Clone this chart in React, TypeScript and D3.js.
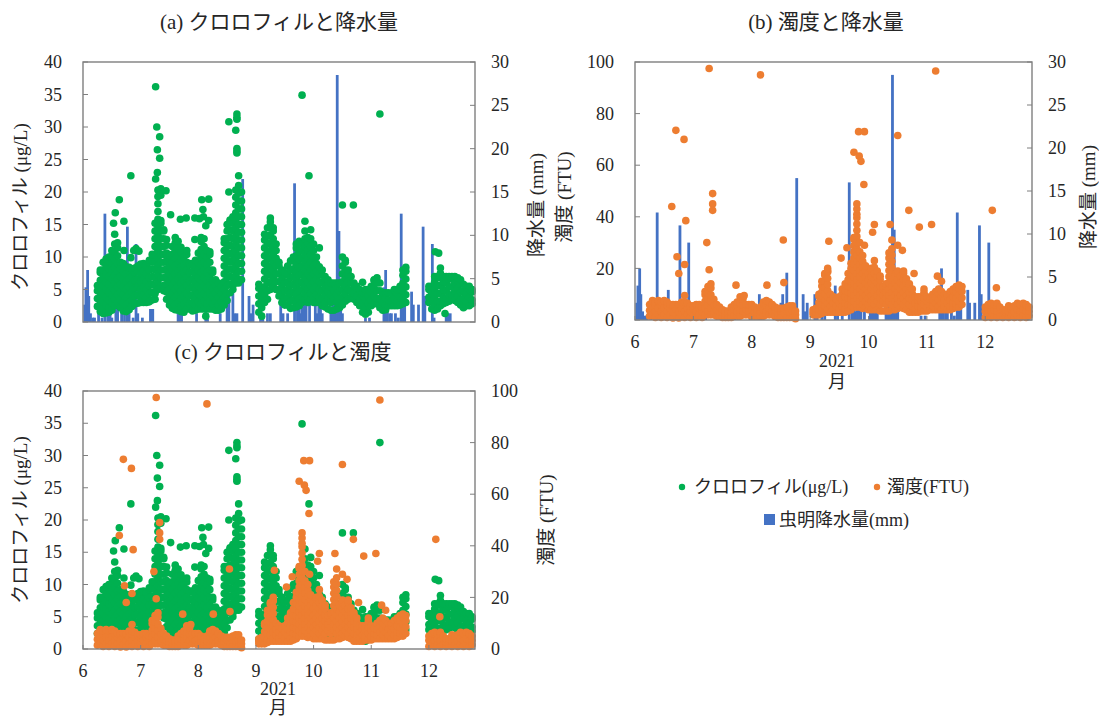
import React from 'react';
import * as d3 from 'd3';

const green = '#00B050';
const orange = '#ED7D31';
const blue = '#4472C4';
const frame = '#7F7F7F';
const ink = '#262626';
const serif = '"Liberation Serif", serif';
const gothic = '"Noto Sans CJK JP", sans-serif';

const monthTicks = [6, 7, 8, 9, 10, 11, 12];
const chlTicks = [0, 5, 10, 15, 20, 25, 30, 35, 40];
const rainTicks = [0, 5, 10, 15, 20, 25, 30];
const turbTicks = [0, 20, 40, 60, 80, 100];

// sampling columns
const sampleMonths = [
  6.25, 6.3, 6.35, 6.4, 6.45, 6.5, 6.55, 6.6, 6.65, 6.7, 6.75, 6.8, 6.85, 6.9, 6.95, 7, 7.05, 7.1, 7.15, 7.2,
  7.25, 7.3, 7.35, 7.4, 7.45, 7.5, 7.55, 7.6, 7.65, 7.7, 7.75, 7.8, 7.85, 7.9, 7.95, 8, 8.05, 8.1, 8.15, 8.2,
  8.25, 8.3, 8.35, 8.4, 8.45, 8.5, 8.55, 8.6, 8.65, 8.7, 8.75,
  9.05, 9.1, 9.15, 9.2, 9.25, 9.3, 9.35, 9.4, 9.45, 9.5, 9.55, 9.6, 9.65, 9.7, 9.75, 9.8, 9.85, 9.9, 9.95, 10,
  10.05, 10.1, 10.15, 10.2, 10.25, 10.3, 10.35, 10.4, 10.45, 10.5, 10.55, 10.6, 10.65, 10.7, 10.75, 10.8, 10.85,
  10.9, 10.95, 11, 11.05, 11.1, 11.15, 11.2, 11.25, 11.3, 11.35, 11.4, 11.45, 11.5, 11.55, 11.6,
  12, 12.05, 12.1, 12.15, 12.2, 12.25, 12.3, 12.35, 12.4, 12.45, 12.5, 12.55, 12.6, 12.65, 12.7, 12.75,
];

const chlColumns = [
  [2.4, 3.6, 4.8, 5.6], [1.6, 2.8, 4, 5.2, 6.4, 7.6, 8], [1.3, 2, 3.2, 4.4, 5.6, 6.8, 8, 9.2], [1.4, 2.6, 3.8, 5, 6.2, 7.4, 8.6, 9.7],
  [1.5, 2.2, 3.4, 4.6, 5.8, 7, 8.2, 9.4, 10], [1.8, 3, 4.2, 5.4, 6.6, 7.8, 9, 10.2, 11], [2.5, 3.6, 4.8, 6, 7.2, 8.4, 9.6, 10.8, 12, 13.5],
  [3, 4.2, 5.4, 6.6, 7.8, 9, 10.2, 11.4, 12.2], [2.2, 3.4, 4.6, 5.8, 7, 8.2, 9.2], [1.7, 3, 4.2, 5.4, 6.6, 7.8, 9], [1.6, 2.6, 3.8, 5, 6.2, 7.4, 8.5],
  [1.9, 3, 4.2, 5.4, 6.6, 7.8, 8.4], [2.4, 3.4, 4.6, 5.8, 7, 8.2], [2.8, 4, 5.2, 6.4, 7.6, 8.3], [2.9, 4.2, 5.4, 6.6, 7.8, 8.6], [3, 3.8, 5, 6.2, 7.4, 8.6, 8.9],
  [3, 4.2, 5.4, 6.6, 7.8, 9], [3, 3.8, 5, 6.2, 7.4, 8.6, 8.8], [3.1, 4.4, 5.6, 6.8, 8, 9.2, 9.5], [3.4, 4.6, 5.8, 7, 8.2, 9.4, 10.4],
  [3.5, 4.4, 5.6, 6.8, 8, 9.2, 10.4, 11.6, 12.8, 14, 15.2], [5, 6.2, 7.4, 8.6, 9.8, 11, 12.2, 13.4, 14.6, 15.8, 17, 18.2, 19.3, 20.3],
  [5.5, 6.8, 8, 9.2, 10.4, 11.6, 12.8, 14, 15.2, 15.6, 19.5, 20.5], [4.8, 5.6, 6.8, 8, 9.2, 10.4, 11.6, 12.8, 14, 14.2], [3.5, 4.6, 5.8, 7, 8.2, 9.4, 10.6, 11.8, 12.7],
  [2.6, 3.8, 5, 6.2, 7.4, 8.6, 9.8, 10.2], [2.1, 3.2, 4.4, 5.6, 6.8, 8, 9.2, 10.4, 11.6], [1.9, 2.6, 3.8, 5, 6.2, 7.4, 8.6, 9.8, 11, 12.2, 13],
  [1.8, 3, 4.2, 5.4, 6.6, 7.8, 9, 10.2, 11.4, 12.4], [1.6, 2.4, 3.6, 4.8, 6, 7.2, 8.4, 9.6, 10.8, 11.5], [1.5, 2.8, 4, 5.2, 6.4, 7.6, 8.8, 10],
  [2, 3.2, 4.4, 5.6, 6.8, 8, 9.2, 10.4, 11], [2, 2.8, 4, 5.2, 6.4, 7.6, 8.8, 9], [1.7, 3, 4.2, 5.4, 6.6, 7.8, 9], [1.8, 2.6, 3.8, 5, 6.2, 7.4, 8.6, 9.5],
  [2, 3.2, 4.4, 5.6, 6.8, 8, 9.2, 10.6], [2, 2.8, 4, 5.2, 6.4, 7.6, 8.8, 10, 11.2, 12.4, 13], [2, 3.2, 4.4, 5.6, 6.8, 8, 9.2, 10.4, 11.6, 12.8],
  [2, 2.8, 4, 5.2, 6.4, 7.6, 8.8, 10, 11], [2, 3.2, 4.4, 5.6, 6.8, 8, 9.2, 10.4, 10.8], [2, 2.8, 4, 5.2, 6.4, 7.6, 8], [1.8, 3.2, 4.4, 5.6, 6.5],
  [1.8, 2.6, 3.8, 5, 6], [2, 3.2, 4.4, 5.5], [2.6, 3.8, 5, 6.2, 7.4, 8.6, 9.8, 11, 12.2, 12.8], [3.3, 4.4, 5.6, 6.8, 8, 9.2, 10.4, 11.6, 12.8, 14, 15],
  [4.5, 5.8, 7, 8.2, 9.4, 10.6, 11.8, 13, 14.2, 15.4, 15.7], [5, 5.6, 6.8, 8, 9.2, 10.4, 11.6, 12.8, 14, 15.2, 16.2], [6, 7.2, 8.4, 9.6, 10.8, 12, 13.2, 14.4, 15.6, 16.8, 18, 19.2, 20.3],
  [6, 6.6, 7.8, 9, 10.2, 11.4, 12.6, 13.8, 15, 16.2, 17.4, 18.6, 19.8, 21, 22.5], [6.5, 7.8, 9, 10.2, 11.4, 12.6, 13.8, 15, 16.2, 17.4, 18.6, 20],
  [1.5, 2.8, 4, 5.2, 5.8], [0.9, 2.2, 3.4, 4.6, 5], [3, 4.2, 5.4, 6.6, 7.8, 9, 10.2, 11.4, 12.6, 13.5], [3.5, 4.8, 6, 7.2, 8.4, 9.6, 10.8, 12, 13.2, 14.5],
  [5, 6.2, 7.4, 8.6, 9.8, 11, 12.2, 13.4, 14.6, 15.4, 16], [5.5, 6.8, 8, 9.2, 10.4, 11.6, 12.8, 14, 14.5], [5, 6.2, 7.4, 8.6, 9.8, 11, 12], [4, 5, 6.2, 7.4, 8.6, 9.2],
  [3, 4.2, 5.4, 6.6, 7.8, 8], [2.6, 3.6, 4.8, 6, 7.2, 7.6], [2.6, 3.8, 5, 6.2, 7.4, 8.6], [2.1, 3.2, 4.4, 5.6, 6.8, 8, 9.4], [2.2, 3.4, 4.6, 5.8, 7, 8.2, 9.4, 10],
  [2.3, 3, 4.2, 5.4, 6.6, 7.8, 9, 10.2, 11.4, 12], [2.5, 3.6, 4.8, 6, 7.2, 8.4, 9.6, 10.8, 12, 12.4], [3, 3.8, 5, 6.2, 7.4, 8.6, 9.8, 11, 12],
  [3.5, 4.4, 5.6, 6.8, 8, 9.2, 10.4, 11.6, 12.8, 14, 15.5], [3, 3.8, 5, 6.2, 7.4, 8.6, 9.8, 11, 12.2, 13], [3.5, 4.4, 5.6, 6.8, 8, 9.2, 10.4, 11.6, 12.8, 14.2],
  [3, 3.8, 5, 6.2, 7.4, 8.6, 9.8, 11, 12], [3, 4.2, 5.4, 6.6, 7.8, 9, 10], [3, 3.8, 5, 6.2, 7.4, 8.5], [2.5, 3.6, 4.8, 6, 7.2, 8], [2.3, 3, 4.2, 5.4, 6.6, 7],
  [2, 3.6, 4.8, 6, 6.5], [1.8, 3, 4.2, 5.4, 6], [1.8, 3.6, 4.8, 6], [2, 3, 4.2, 5.4, 6], [2.2, 3.6, 4.8, 6], [2.6, 3.8, 5, 6.2, 7.4, 8.6, 10],
  [3.2, 4.4, 5.6, 6.8, 8, 9.2, 9.5], [3.5, 5, 6.2, 7.4, 8], [3.8, 4.8, 6, 7], [3.5, 4.4, 5.6, 6], [3, 4, 5.2, 5.5], [2.5, 3.4, 4.6, 5], [1.5, 2.8, 4, 4.5],
  [1.2, 2.2, 3.4, 4.6, 5], [1.5, 2.8, 4, 5], [2.5, 3.4, 4.6, 5.5], [2.8, 4, 5.2, 6.4, 6.5], [2.8, 3.6, 4.8, 6, 6.8], [2.2, 3.6, 4.8, 6], [1.8, 3, 4.2, 4.5], [1.9, 2.6, 3.8, 4.5],
  [2.5, 3.4, 4.5], [2.5, 3.2, 4.4], [2.5, 3.6, 4.8, 5], [2.5, 3.2, 4.4, 5], [2.6, 3.8, 5, 5.5], [2.8, 3.6, 4.8, 6, 7.2, 8], [3, 4.2, 5.4, 6.6, 7.8, 8.4], [3, 3.8, 5, 5.5],
  [2, 3.2, 4.4, 5.5], [1.8, 2.6, 3.8, 5, 6.2, 7], [2, 3.2, 4.4, 5.6, 6.8, 7], [2.5, 3.2, 4.4, 5.6, 6.8, 7.5, 8.3], [2.8, 3.8, 5, 6.2, 7], [3, 3.6, 4.8, 6, 7], [3.2, 4.2, 5.4, 6.6, 7],
  [3.5, 4.2, 5.4, 6.6, 7], [3.3, 4.8, 6, 7], [3, 4, 5.2, 6.4, 6.8], [2.6, 3.4, 4.6, 5.8, 6.5], [2.2, 3.6, 4.8, 5.8], [2.5, 3.2, 4.4, 5.5], [2.5, 3.8, 5, 5.5], [2.8, 3.4, 4.6, 5],
  [2.8, 4, 5],
];

const turbColumns = [
  [1.5, 3.8, 6], [2, 4.6, 7.2, 7.5], [1, 3.4, 5.8, 7], [2, 4.6, 7.2, 7.5], [1, 3.4, 5.8, 7], [2, 4.6, 7.2, 7.5], [1, 3.4, 5.8, 7], [2, 4.6, 6], [0.8, 3.2, 5.6, 6], [1.8, 4.4, 6],
  [0.8, 3.2, 5.6, 6], [2, 4.6, 7], [1, 3.4, 5.8, 7], [2, 4.6, 6.5], [1, 3.4, 5.5], [2, 4.4, 5.5], [1, 3.4, 5.8, 6], [2, 4.6, 6], [1, 3.2, 5], [2, 4.6, 7.2, 9.8, 11],
  [2, 3.4, 5.8, 8.2, 10.6, 13], [2, 4.6, 7.2, 9.8, 12.4, 14], [2, 3.4, 5.8, 8], [1.5, 4, 6], [1.5, 3.2, 5], [1, 2.8, 4], [1, 2.3, 3.5], [1, 2.6, 3.5], [1, 3, 5], [1.6, 4, 6],
  [1.5, 3.2, 5.6, 7], [1.5, 4, 6.5, 9], [2, 3.4, 5.8, 8.2, 9], [2, 4.4, 6], [2, 3.4, 5.8, 6], [1.5, 4, 6], [1.5, 3, 5], [1.5, 2.8, 4], [1.5, 3.2, 5], [1.5, 4, 6.4, 7],
  [2, 3.4, 5.8, 7.5], [2, 4.6, 7], [2, 3.4, 5.8, 6], [1.5, 4, 5], [1, 2.8, 4.5], [1, 3.4, 4.5], [1, 2.8, 4.5], [1, 3.4, 5], [1, 3.2, 5.5], [1, 3.4, 5.5], [0.5, 2, 3.5],
  [2, 3, 4], [2, 3.2, 4.5], [2, 4.4, 6.8, 9.2, 10], [2.5, 3.6, 6, 8.4, 10.8, 13.2, 15], [3, 5.4, 7.8, 10.2, 12.6, 15, 17.4, 18], [3, 4.2, 6.6, 9, 11.4, 13.8, 16.2, 18.6, 19], [3, 5.4, 7.8, 10], [3, 4.2, 6.6, 9], [3, 5.4, 7.8, 8], [3, 4.2, 6.6, 9],
  [3, 5.4, 7.8, 10.2, 12], [3, 4.2, 6.6, 9, 11.4, 14], [3.5, 6, 8.4, 10.8, 13.2, 15.6, 18], [4, 5.6, 8, 10.4, 12.8, 15.2, 17.6, 20, 22],
  [5, 7.2, 9.6, 12, 14.4, 16.8, 19.2, 21.6, 24, 26.4, 28.8, 31.2, 32], [5, 6, 8.4, 10.8, 13.2, 15.6, 18, 20.4, 22.8, 25.2, 27.6, 30, 32.4, 34.8, 37.2, 39.6, 41, 43, 45],
  [5, 7.2, 9.6, 12, 14.4, 16.8, 19.2, 21.6, 24, 26.4, 30], [4.5, 6, 8.4, 10.8, 13.2, 15.6, 18, 20.4, 22.8, 25], [5, 7.2, 9.6, 12, 14.4, 16.8, 19.2, 21], [4, 6, 8.4, 10.8, 13.2, 15.6, 18],
  [4, 7.2, 9.6, 12, 14.4, 16.8, 19.2, 20], [4, 6, 8.4, 10.8, 13.2, 15.6, 18, 20.4, 23], [4, 7.2, 9.6, 12, 14.4, 16.8, 19], [3.5, 6, 8.4, 10.8, 13.2, 15.6, 17], [3.5, 7.2, 9.6, 12, 13],
  [3.5, 6, 8.4, 10.8, 13.2, 14], [3.5, 7.2, 9.6, 12, 14.4, 16.8, 19.2, 21.6, 24, 26], [4, 6, 8.4, 10.8, 13.2, 15.6, 18, 20.4, 22.8, 25.2, 27.6, 31], [4, 7.2, 9.6, 12, 14.4, 17],
  [4.5, 6, 8.4, 10.8, 13.2, 15.6, 18, 19], [5, 7.2, 9.6, 12, 14.4, 17], [4.5, 6, 8.4, 10.8, 13.2, 15.6, 18, 19], [4, 7.2, 9.6, 12, 14.4, 16], [3, 6, 8.4, 10.8, 13.2, 14],
  [3, 5.4, 7.8, 10.2, 12], [3, 4.2, 6.6, 9], [3, 5.4, 7.8, 9], [3.5, 5, 7.4, 9], [3.5, 6, 8.4, 10.8, 12], [3.5, 5, 7.4, 9], [4, 6, 8], [4, 5.4, 7.8, 10], [4, 6.6, 9, 11], [4, 5.4, 7.8, 10.2, 12], [4, 6.6, 9, 11],
  [4, 5.4, 7.8, 10], [4, 6.6, 9, 10], [4, 5.4, 7.8, 10.2, 11], [4.5, 6.6, 9, 11.4, 12], [5, 6.2, 8.6, 11, 13], [5, 7.4, 9.8, 12.2, 13.5], [6, 8.6, 11, 13],
  [1, 3.4, 5], [1.6, 4, 6], [1, 3.4, 5.8, 6.5], [1.6, 4, 6], [1, 3.4, 5.8, 6.5], [1.6, 4, 5], [1, 2.6, 4], [1.6, 3.2, 4], [1, 3.2, 5.5], [1.6, 4, 5], [1, 3.2, 5.5], [1.6, 4, 6.5], [1, 3.4, 5.8, 6], [1.6, 4, 6.5], [1, 3.4, 5.8, 6], [1.6, 3.4, 5],
];

const chlOutlierMonths = [6.53, 6.56, 6.63, 6.71, 6.71, 6.83, 6.83, 6.88, 6.92, 6.97, 7.26, 7.28, 7.33, 7.29, 7.33, 7.29, 7.26, 7.44, 7.52, 7.69, 7.79, 7.94, 8.02, 7.94, 8.06, 8.18, 8.08, 8.09, 8.13, 8.18, 8.13, 8.53, 8.53, 8.67, 8.67, 8.67, 8.65, 8.67, 8.67, 8.67, 9.8, 9.92, 10.1, 10.5, 10.69, 10.85, 11.15, 12.11, 12.17, 12.28];
const chlOutlierValues = [15.2, 16.8, 18.8, 15.5, 11, 9.9, 22.5, 11, 11.3, 10.9, 36.2, 30, 28.5, 26.5, 25.2, 23, 22, 20.2, 16.5, 15.8, 16, 16, 15.9, 12.7, 18.8, 18.9, 17.3, 16.2, 0.9, 15.6, 14.8, 20, 30.8, 31.2, 32, 31.5, 29.5, 26.7, 26, 26.3, 34.9, 22.5, 11.4, 18, 18, 6.1, 32, 10.8, 10.6, 1.3];

const turbOutlierMonths = [7.27, 8.15, 6.7, 6.84, 6.63, 6.87, 6.72, 6.85, 6.75, 6.85, 7.23, 7.27, 7.33, 7.33, 7.33, 7.73, 8.26, 8.54, 8.55, 7.87, 9.83, 9.93, 9.75, 9.84, 9.87, 9.92, 10.1, 10.07, 10.37, 10.5, 10.69, 10.87, 11.08, 11.15, 10.5, 10.58, 9.32, 9.63, 9.53, 9.93, 11.18, 11.25, 10.78, 12.12, 12.19, 9.3];
const turbOutlierValues = [97.5, 95, 73.5, 70, 44, 38.5, 24.5, 21.5, 18, 9.5, 30, 19.5, 49, 45, 42.5, 13.5, 13.5, 31, 14.5, 9.5, 73, 73, 65, 63.5, 61.5, 52.5, 37, 34, 37, 71.5, 42.5, 36, 37, 96.5, 29, 27, 30.5, 28, 24, 29, 17, 15, 18, 42.5, 12.5, 20];

const rainMonths = [6.03, 6.05, 6.08, 6.1, 6.13, 6.17, 6.2, 6.27, 6.33, 6.38, 6.43, 6.47, 6.5, 6.57, 6.6, 6.67, 6.72, 6.77, 6.8, 6.87, 6.92, 6.95, 7.03, 7.17, 7.19, 7.21, 7.65, 7.68, 7.71, 7.97, 8.13, 8.16, 8.38, 8.5, 8.53, 8.6, 8.63, 8.67, 8.77, 8.88, 8.91, 8.95, 9.08, 9.12, 9.2, 9.25, 9.43, 9.47, 9.55, 9.67, 9.72, 9.75, 9.78, 9.8, 9.83, 9.87, 9.93, 10.03, 10.06, 10.09, 10.12, 10.15, 10.3, 10.33, 10.36, 10.39, 10.41, 10.44, 10.47, 10.5, 10.9, 10.97, 11.22, 11.25, 11.28, 11.32, 11.35, 11.42, 11.47, 11.52, 11.55, 11.58, 11.7, 11.73, 11.82, 11.9, 11.93, 12.06, 12.09, 12.3, 12.33, 12.37];
const rainValues = [2, 4, 6, 3, 1, 0.5, 0.5, 1, 0.5, 12.5, 1, 1, 0.5, 3.5, 1.5, 1, 2, 11, 2, 0.5, 9, 1, 0.5, 1.5, 1.5, 1.5, 1, 1.5, 1, 1, 3, 1, 1, 2, 3, 5.5, 1, 1, 16.5, 3, 1, 2, 3, 1, 1, 1, 4, 1, 1, 16, 2, 2.5, 1, 2, 4, 2.5, 3, 2, 1, 3, 2, 1, 1.5, 2, 2, 2, 28.5, 10.5, 3, 1, 0.5, 0.5, 4, 6, 3, 1, 1, 1, 0.5, 12.5, 4, 3, 3.5, 2, 2, 11, 3, 9, 0.5, 1, 1, 1];

const chlPoints = [
  ...sampleMonths.flatMap((m, i) => chlColumns[i].map((v) => [m, v])),
  ...chlOutlierMonths.map((m, i) => [m, chlOutlierValues[i]]),
];
const turbPoints = [
  ...sampleMonths.flatMap((m, i) => turbColumns[i].map((v) => [m, v])),
  ...turbOutlierMonths.map((m, i) => [m, turbOutlierValues[i]]),
];

// text with the gothic part and the Times-like part mixed
const Mixed = ({ parts, size, ...rest }: any) => (
  <text fontSize={size} fill={ink} {...rest}>
    {parts.map(([t, isSerif]: [string, boolean], i: number) => (
      <tspan key={i} fontFamily={isSerif ? serif : gothic}>{t}</tspan>
    ))}
  </text>
);

const Panel = ({ box, leftTicks, leftMax, rightTicks, rightMax, dots, bars, showMonths }: any) => {
  const x = d3.scaleLinear().domain([6, 12.8]).range([box.left, box.right]);
  const yL = d3.scaleLinear().domain([0, leftMax]).range([box.bottom, box.top]);
  const yR = d3.scaleLinear().domain([0, rightMax]).range([box.bottom, box.top]);
  const barW = x(6.048) - x(6);
  return (
    <g>
      {bars && rainMonths.map((m, i) => (
        <rect key={i} x={x(m) - barW / 2} y={yR(rainValues[i])} width={barW} height={box.bottom - yR(rainValues[i])} fill={blue} />
      ))}
      {dots.map((d: any, k: number) => (
        <g key={k} fill={d.color}>
          {d.points.map((p: number[], i: number) => (
            <circle key={i} cx={x(p[0])} cy={(d.axis === 'right' ? yR : yL)(p[1])} r={3.8} />
          ))}
        </g>
      ))}
      <rect x={box.left} y={box.top} width={box.right - box.left} height={box.bottom - box.top} fill="none" stroke={frame} strokeWidth={1.4} />
      {leftTicks.map((t: number) => (
        <g key={t}>
          <line x1={box.left} x2={box.left + 5} y1={yL(t)} y2={yL(t)} stroke={frame} />
          <text x={box.left - 21} y={yL(t)} dy="0.34em" textAnchor="end" fontFamily={serif} fontSize={18} fill={ink}>{t}</text>
        </g>
      ))}
      {rightTicks.map((t: number) => (
        <g key={t}>
          <line x1={box.right - 5} x2={box.right} y1={yR(t)} y2={yR(t)} stroke={frame} />
          <text x={box.right + 16} y={yR(t)} dy="0.34em" fontFamily={serif} fontSize={18} fill={ink}>{t}</text>
        </g>
      ))}
      {showMonths && monthTicks.map((t) => (
        <g key={t}>
          <line x1={x(t)} x2={x(t)} y1={box.bottom - 4} y2={box.bottom} stroke={frame} />
          <text x={x(t)} y={box.bottom + 22} dy="0.34em" textAnchor="middle" fontFamily={serif} fontSize={18} fill={ink}>{t}</text>
        </g>
      ))}
    </g>
  );
};

const vertical = (x: number, y: number) => ({ transform: `translate(${x},${y}) rotate(-90)`, textAnchor: 'middle' });

export default function App() {
  const boxA = { left: 83, right: 475, top: 62, bottom: 322 };
  const boxB = { left: 635, right: 1032, top: 62, bottom: 320 };
  const boxC = { left: 83, right: 475, top: 391, bottom: 649 };
  return (
    <svg width={1099} height={718} style={{ position: 'absolute', left: 0, top: 0 }}>
      <Panel box={boxA} leftTicks={chlTicks} leftMax={40} rightTicks={rainTicks} rightMax={30} bars
        dots={[{ color: green, points: chlPoints, axis: 'left' }]} />
      <Panel box={boxB} leftTicks={turbTicks} leftMax={100} rightTicks={rainTicks} rightMax={30} bars showMonths
        dots={[{ color: orange, points: turbPoints, axis: 'left' }]} />
      <Panel box={boxC} leftTicks={chlTicks} leftMax={40} rightTicks={turbTicks} rightMax={100} showMonths
        dots={[{ color: green, points: chlPoints, axis: 'left' }, { color: orange, points: turbPoints, axis: 'right' }]} />

      <Mixed parts={[['(a) ', true], ['クロロフィルと降水量', false]]} size={21} x={279} y={29} textAnchor="middle" />
      <Mixed parts={[['(b) ', true], ['濁度と降水量', false]]} size={21} x={826} y={29} textAnchor="middle" />
      <Mixed parts={[['(c) ', true], ['クロロフィルと濁度', false]]} size={21} x={283} y={359} textAnchor="middle" />

      <Mixed parts={[['クロロフィル', false], [' (μg/L)', true]]} size={19} {...vertical(27, 207)} />
      <Mixed parts={[['降水量', false], [' (mm)', true]]} size={19} {...vertical(543, 205)} />
      <Mixed parts={[['濁度', false], [' (FTU)', true]]} size={19} {...vertical(571, 197)} />
      <Mixed parts={[['降水量', false], [' (mm)', true]]} size={19} {...vertical(1095, 197)} />
      <Mixed parts={[['クロロフィル', false], [' (μg/L)', true]]} size={19} {...vertical(27, 520)} />
      <Mixed parts={[['濁度', false], [' (FTU)', true]]} size={19} {...vertical(553, 520)} />

      <text x={837} y={361} dy="0.34em" textAnchor="middle" fontFamily={serif} fontSize={18} fill={ink}>2021</text>
      <text x={837} y={382} dy="0.36em" textAnchor="middle" fontFamily={gothic} fontSize={18} fill={ink}>月</text>
      <text x={278} y={689} dy="0.34em" textAnchor="middle" fontFamily={serif} fontSize={18} fill={ink}>2021</text>
      <text x={278} y={708} dy="0.36em" textAnchor="middle" fontFamily={gothic} fontSize={18} fill={ink}>月</text>

      <circle cx={682} cy={487} r={3.2} fill={green} />
      <Mixed parts={[['クロロフィル', false], ['(μg/L)', true]]} size={18} x={694} y={493} />
      <circle cx={877} cy={487} r={3.2} fill={orange} />
      <Mixed parts={[['濁度', false], ['(FTU)', true]]} size={18} x={887} y={493} />
      <rect x={764} y={514} width={11} height={11} fill={blue} />
      <Mixed parts={[['虫明降水量', false], ['(mm)', true]]} size={18} x={779} y={526} />
    </svg>
  );
}
